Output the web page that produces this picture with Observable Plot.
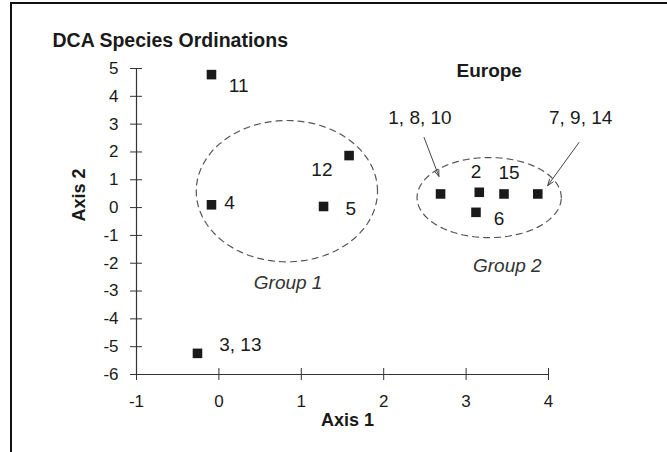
<!DOCTYPE html>
<html>
<head>
<meta charset="utf-8">
<script src="https://cdn.jsdelivr.net/npm/d3@7"></script>
<script src="https://cdn.jsdelivr.net/npm/@observablehq/plot@0.6"></script>
<style>
  html, body { margin: 0; padding: 0; background: #fff; }
  #wrap { position: relative; width: 667px; height: 452px; overflow: hidden; }
  #border { position: absolute; left: 10px; top: 2px; right: -5px; bottom: -5px;
            border-top: 2px solid #111; border-left: 2px solid #111; pointer-events: none; }
  svg { font-family: "Liberation Sans", Arial, sans-serif; }
</style>
</head>
<body>
<div id="wrap"><div id="border"></div></div>
<script>
// ---- data ----
const title = "DCA Species Ordinations";
const xTicks = [-1, 0, 1, 2, 3, 4];
const yTicks = [-6, -5, -4, -3, -2, -1, 0, 1, 2, 3, 4, 5];

// species points (Axis 1, Axis 2)
const ptX = [-0.09, -0.09, 1.58, 1.27, -0.26, 2.69, 3.16, 3.46, 3.87, 3.12];
const ptY = [4.78, 0.10, 1.87, 0.04, -5.24, 0.49, 0.55, 0.49, 0.49, -0.17];

// point labels
const lblText = ["11", "4", "12", "5", "3, 13", "2", "15", "6", "1, 8, 10", "7, 9, 14"];
const lblX = [0.24, 0.13, 1.25, 1.60, 0.26, 3.12, 3.52, 3.40, 2.44, 4.39];
const lblY = [4.39, 0.18, 1.37, -0.04, -4.93, 1.29, 1.26, -0.40, 3.24, 3.24];

// group ellipses
const grpName = ["Group 1", "Group 2"];
const grpCx = [0.825, 3.28];
const grpCy = [0.59, 0.36];
const grpRx = [1.10, 0.875];
const grpRy = [2.54, 1.44];
const grpLblX = [0.84, 3.50];
const grpLblY = [-2.70, -2.09];

// region annotation
const regionText = ["Europe"];
const regionX = [3.28];
const regionY = [4.93];

// arrows (from label to points)
const arrX1 = [2.49, 4.37];
const arrY1 = [2.52, 2.34];
const arrX2 = [2.67, 3.99];
const arrY2 = [1.12, 0.79];

// ---- build tables ----
const points = ptX.map((x, i) => ({x, y: ptY[i]}));
const labels = lblText.map((t, i) => ({t, x: lblX[i], y: lblY[i]}));
const ellipse = [];
grpName.forEach((g, k) => {
  for (let i = 0; i <= 120; i++) {
    const a = (i / 120) * 2 * Math.PI;
    ellipse.push({g, x: grpCx[k] + grpRx[k] * Math.cos(a), y: grpCy[k] + grpRy[k] * Math.sin(a)});
  }
});
const grpLabels = grpName.map((t, i) => ({t, x: grpLblX[i], y: grpLblY[i]}));
const region = regionText.map((t, i) => ({t, x: regionX[i], y: regionY[i]}));
const arrows = arrX1.map((x1, i) => ({x1, y1: arrY1[i], x2: arrX2[i], y2: arrY2[i]}));

const ink = "#1a1a1a";
const chart = Plot.plot({
  width: 667,
  height: 452,
  marginLeft: 136,
  marginRight: 119,
  marginTop: 68,
  marginBottom: 78,
  x: {domain: [-1, 4]},
  y: {domain: [-6, 5]},
  style: {fontFamily: "'Liberation Sans', Arial, sans-serif", color: ink, background: "transparent"},
  marks: [
    Plot.axisX(xTicks, {tickSize: 0, tickPadding: 20, fontSize: 17, label: null, tickFormat: d => String(d)}),
    Plot.axisY(yTicks, {tickSize: 0, tickPadding: 18, fontSize: 17, label: null, tickFormat: d => String(d)}),
    Plot.ruleX([-1], {y1: -6, y2: 5, stroke: "#333", strokeWidth: 1.2}),
    Plot.ruleY([-6], {x1: -1, x2: 4, stroke: "#333", strokeWidth: 1.2}),
    Plot.ruleY(yTicks, {y: d => d, x1: -1, x2: -1, insetLeft: -6, insetRight: -6, stroke: "#333"}),
    Plot.ruleX(xTicks, {x: d => d, y1: -6, y2: -6, insetTop: -6, insetBottom: -6, stroke: "#333"}),
    Plot.line(ellipse, {x: "x", y: "y", z: "g", stroke: "#555", strokeWidth: 1.2, strokeDasharray: "6,5", curve: "linear-closed"}),
    Plot.arrow(arrows, {x1: "x1", y1: "y1", x2: "x2", y2: "y2", stroke: "#444", strokeWidth: 1, headLength: 10, headAngle: 40}),
    Plot.dot(points, {x: "x", y: "y", symbol: "square", r: 5.4, fill: ink, stroke: "none"}),
    Plot.text(labels, {x: "x", y: "y", text: "t", fontSize: 19, fill: ink}),
    Plot.text(grpLabels, {x: "x", y: "y", text: "t", fontSize: 19, fontStyle: "italic", fill: "#333"}),
    Plot.text(region, {x: "x", y: "y", text: "t", fontSize: 19, fontWeight: "bold", fill: ink}),
    Plot.text([title], {frameAnchor: "top-left", textAnchor: "start", dx: -84, dy: -35, fontSize: 19.5, fontWeight: "bold", fill: ink}),
    Plot.text(["Axis 1"], {frameAnchor: "bottom", dx: 5, dy: 51, fontSize: 18, fontWeight: "bold", fill: ink}),
    Plot.text(["Axis 2"], {frameAnchor: "left", dx: -57, rotate: -90, fontSize: 18, fontWeight: "bold", fill: ink})
  ]
});
document.getElementById("wrap").prepend(chart);
</script>
</body>
</html>
